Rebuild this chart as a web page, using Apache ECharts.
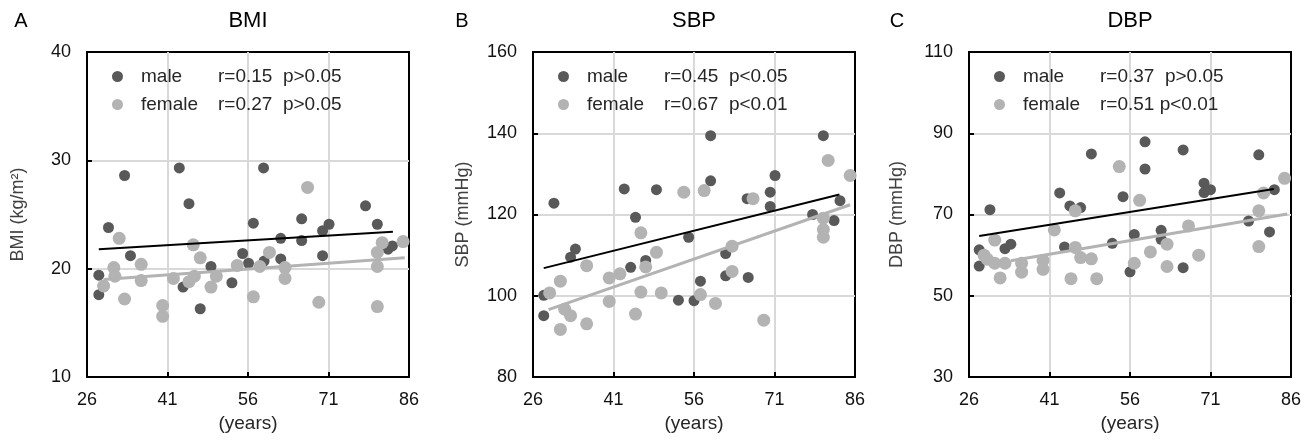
<!DOCTYPE html>
<html>
<head>
<meta charset="utf-8">
<script src="https://cdn.jsdelivr.net/npm/echarts@6/dist/echarts.min.js"></script>
<style>
  html, body { margin: 0; background: #fff; }
  #chart { width: 1314px; height: 441px; }
</style>
</head>
<body>
<div id="chart"></div>
<script>
// ---- data ----
const panelLetters = ["A", "B", "C"];
const panelTitles = ["BMI", "SBP", "DBP"];
const yNames = ["BMI (kg/m²)", "SBP (mmHg)", "DBP (mmHg)"];
const ageTicks = [26, 41, 56, 71, 86];
const yMins = [10, 80, 30];
const yMaxs = [40, 160, 110];
const ySteps = [10, 20, 20];
const maleStats = ["r=0.15  p>0.05", "r=0.45  p<0.05", "r=0.37  p>0.05"];
const femaleStats = ["r=0.27  p>0.05", "r=0.67  p<0.01", "r=0.51 p<0.01"];

const bmiMale = [[28.2,19.4],[28.2,17.6],[30,23.8],[33,28.6],[34.1,21.2],[43.2,29.3],[45,26],[43.9,18.3],[47.1,16.3],[49.1,20.2],[53,18.7],[55,21.4],[56.1,20.5],[57,24.2],[58.9,29.3],[59,20.7],[62.1,22.8],[62.1,20.9],[66,24.6],[66,22.6],[69.9,23.5],[69.9,21.2],[71.1,24.1],[77.9,25.8],[80.1,24.1],[82.1,21.8],[82.9,22.1]];
const bmiFemale = [[29.1,18.4],[31,20.1],[31.2,19.3],[32,22.8],[33,17.2],[36.1,20.4],[36.1,18.9],[40.1,16.6],[40.1,15.6],[42.1,19.1],[45,18.8],[45.8,22.2],[46,19.3],[47.1,21],[49.1,18.3],[50.1,19.3],[54,20.3],[57,17.4],[58.2,20.2],[60,21.5],[62.9,20.1],[62.9,19.1],[67.1,27.5],[69.2,16.9],[80.1,21.5],[80.1,20.2],[80.1,16.5],[81,22.4],[84.9,22.5]];
const bmiMaleFit = [[28.2,21.8],[83,23.4]];
const bmiFemaleFit = [[29.1,19.0],[85.2,21.0]];

const sbpMale = [[28,100.1],[28,95.1],[29.9,122.8],[33,109.5],[33.9,111.5],[43,126.3],[44.2,107],[45.1,119.3],[47,108.7],[49,126.1],[53.1,98.9],[55,114.4],[56,98.8],[57.2,103.6],[59.1,139.4],[59.1,128.3],[61.9,110.4],[61.9,104.9],[65.9,123.9],[66.1,104.5],[70.2,125.5],[70.2,122],[71.1,129.6],[78.1,120],[80.1,139.4],[82.1,118.5],[83.2,123.4]];
const sbpFemale = [[29.1,100.7],[31.1,103.6],[31.1,91.7],[31.9,96.7],[33,95.1],[36,107.4],[36,93.1],[40.2,104.4],[40.2,98.6],[42.2,105.4],[45.1,95.5],[46.1,115.5],[46.1,100.9],[47,107.1],[49,110.7],[49.9,100.7],[54.1,125.5],[57.2,100.3],[57.9,125.9],[60,98.1],[63.1,112.2],[63.1,106],[67,123.9],[69,94],[80.1,119.1],[80.1,116.3],[80.1,114.4],[81,133.3],[85.1,129.6]];
const sbpMaleFit = [[28,106.8],[83.1,124.9]];
const sbpFemaleFit = [[28.9,96.6],[85.1,122.4]];

const dbpMale = [[27.9,61.3],[27.9,57.3],[29.9,71.2],[32.7,61.6],[33.8,62.7],[42.9,75.3],[43.8,62],[44.8,72.1],[46.8,71.7],[48.8,84.9],[52.7,62.9],[54.7,74.4],[56,55.9],[56.8,65.1],[58.8,87.9],[58.8,81.2],[61.8,66.1],[61.8,63.9],[65.9,85.9],[65.9,56.9],[69.8,77.7],[69.8,75.4],[71,76.1],[78.1,68.4],[80,84.7],[82,65.7],[82.9,76.1]];
const dbpFemale = [[28.8,60],[29.4,59],[30.8,63.7],[30.8,58],[31.8,54.4],[32.7,58],[35.8,58],[35.8,55.8],[39.8,58.7],[39.8,56.5],[41.9,66.2],[45,54.2],[45.8,61.9],[45.8,70.9],[46.8,59.4],[48.8,59.1],[49.8,54.2],[54,81.8],[56.8,58],[57.8,73.5],[59.8,60.8],[62.9,62.7],[62.9,57.2],[66.9,67.2],[68.8,60],[80,70.9],[80,62.1],[80.9,75.3],[84.8,78.9]];
const dbpMaleFit = [[27.9,64.7],[82.8,76.3]];
const dbpFemaleFit = [[33.8,58.6],[85.3,70.1]];

const maleSets = [bmiMale, sbpMale, dbpMale];
const femaleSets = [bmiFemale, sbpFemale, dbpFemale];
const maleFits = [bmiMaleFit, sbpMaleFit, dbpMaleFit];
const femaleFits = [bmiFemaleFit, sbpFemaleFit, dbpFemaleFit];

// ---- layout ----
const FONT = "'Liberation Sans', Arial, sans-serif";
const MALE = "#595959";
const FEMALE = "#b3b3b3";
const gridLefts = [87, 533, 969];
const gridW = 322;
const gridTop = 52;
const gridH = 325;
const letterX = [21, 462, 897];
const yNameGap = [60, 61, 63];

const chart = echarts.init(document.getElementById("chart"), null, { renderer: "canvas" });

const grid = [], xAxis = [], yAxis = [], series = [], legend = [], graphic = [];

panelTitles.forEach((t, i) => {
  grid.push({
    left: gridLefts[i], top: gridTop, width: gridW, height: gridH,
    show: true, borderColor: "#000", borderWidth: 2, backgroundColor: "#fff",
  });
  xAxis.push({
    gridIndex: i, type: "value", min: 26, max: 86, interval: 15,
    name: "(years)", nameLocation: "middle", nameGap: 30,
    nameTextStyle: { fontFamily: FONT, fontSize: 19, color: "#262626" },
    axisLine: { show: true, lineStyle: { color: "#000", width: 2 } },
    axisTick: { show: true, inside: true, length: 5, lineStyle: { color: "#000", width: 2 } },
    axisLabel: { fontFamily: FONT, fontSize: 18, color: "#111", margin: 14 },
    splitLine: { show: true, showMinLine: false, showMaxLine: false, lineStyle: { color: "#d9d9d9", width: 2 } },
  });
  yAxis.push({
    gridIndex: i, type: "value", min: yMins[i], max: yMaxs[i], interval: ySteps[i],
    name: yNames[i], nameLocation: "middle", nameGap: yNameGap[i],
    nameTextStyle: { fontFamily: FONT, fontSize: 18, color: "#404040" },
    axisLine: { show: true, lineStyle: { color: "#000", width: 2 } },
    axisTick: { show: true, inside: true, length: 5, lineStyle: { color: "#000", width: 2 } },
    axisLabel: { fontFamily: FONT, fontSize: 18, color: "#111", margin: 16 },
    splitLine: { show: true, showMinLine: false, showMaxLine: false, lineStyle: { color: "#d9d9d9", width: 2 } },
  });
  series.push({
    name: "male", type: "scatter", xAxisIndex: i, yAxisIndex: i,
    data: maleSets[i], symbolSize: 11, itemStyle: { color: MALE, opacity: 1 }, z: 3,
  });
  series.push({
    name: "female", type: "scatter", xAxisIndex: i, yAxisIndex: i,
    data: femaleSets[i], symbolSize: 13, itemStyle: { color: FEMALE, opacity: 1 }, z: 4,
  });
  series.push({
    name: "male fit", type: "line", xAxisIndex: i, yAxisIndex: i,
    data: maleFits[i], symbol: "none", lineStyle: { color: "#000", width: 2 }, z: 5,
  });
  series.push({
    name: "female fit", type: "line", xAxisIndex: i, yAxisIndex: i,
    data: femaleFits[i], symbol: "none", lineStyle: { color: FEMALE, width: 3 }, z: 5,
  });
  legend.push({
    data: ["male", "female"], orient: "vertical",
    left: gridLefts[i] + 20, top: 62, itemWidth: 11, itemHeight: 11, itemGap: 9,
    icon: "circle", selectedMode: false,
    textStyle: {
      fontFamily: FONT, fontSize: 19, color: "#262626",
      rich: {
        g: { width: 13 },
        n: { width: 77, fontFamily: FONT, fontSize: 19, color: "#262626", lineHeight: 19 },
        s: { fontFamily: FONT, fontSize: 19, color: "#262626", lineHeight: 19 },
      },
    },
    formatter: (name) => name === "male"
      ? "{g|}{n|male}{s|" + maleStats[i] + "}"
      : "{g|}{n|female}{s|" + femaleStats[i] + "}",
  });
  graphic.push({
    type: "text", x: letterX[i], y: 21,
    style: { text: panelLetters[i], font: "20px " + FONT, fill: "#000", align: "center", verticalAlign: "middle" },
  });
  graphic.push({
    type: "text", x: gridLefts[i] + gridW / 2, y: 21,
    style: { text: t, font: "22px " + FONT, fill: "#000", align: "center", verticalAlign: "middle" },
  });
});

chart.setOption({
  animation: false,
  backgroundColor: "#fff",
  grid, xAxis, yAxis, series, legend, graphic,
});
</script>
</body>
</html>
